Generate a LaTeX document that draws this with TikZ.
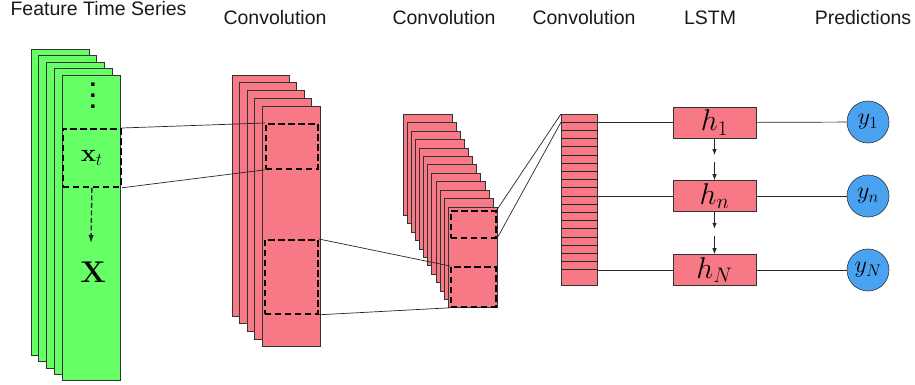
\RequirePackage{fix-cm}
\documentclass[tikz,border=0pt]{standalone}
\usepackage[no-math]{fontspec}
\setmainfont{Liberation Sans}
\usepackage{amsmath}
\usepackage{tikz}
\usetikzlibrary{arrows.meta, positioning, calc}

\definecolor{featgreen}{RGB}{102,255,102}
\definecolor{convred}{RGB}{247,121,133}
\definecolor{predblue}{RGB}{74,163,240}

\begin{document}
\begin{tikzpicture}[x=1pt, y=-1pt,
    layer/.style={draw=black!80, fill=#1, line width=0.6pt},
    front/.style={layer=#1, inner sep=0pt, anchor=north west},
    window/.style={draw=black, dashed, dash pattern=on 6.5pt off 3.5pt, line width=1.8pt, inner sep=0pt, anchor=north west},
    cell/.style={draw=black!80, fill=convred, line width=0.6pt, minimum width=83pt, minimum height=31pt, inner sep=0pt, font=\fontsize{30}{34}\selectfont},
    pred/.style={circle, draw=black!80, fill=predblue, line width=0.6pt, minimum size=42pt, inner sep=0pt, font=\fontsize{24}{28}\selectfont},
    title/.style={anchor=base, text=black!90, font=\fontsize{19.5}{23}\selectfont},
    link/.style={draw=black!85, line width=0.7pt},
    arr/.style={link, -{Latex[length=6pt, width=4.5pt]}}]
\useasboundingbox (0,0) rectangle (915,385);

% Titles
\node[title] (t-feat) at (98.5,16) {Feature Time Series};
\node[title] (t-conv1) at (275,25) {Convolution};
\node[title] (t-conv2) at (444,25) {Convolution};
\node[title] (t-conv3) at (584,25) {Convolution};
\node[title] (t-lstm) at (710,25) {LSTM};
\node[title] (t-pred) at (863,25) {Predictions};

% Feature time series stack
\foreach \i in {0,...,3}
    \draw[layer=featgreen] ({31+7.75*\i},{49+6.5*\i}) rectangle ++(58,306);
\node[front=featgreen, minimum width=58pt, minimum height=305pt] (feat) at (62,75) {};
\node[font=\fontsize{24}{28}\selectfont\bfseries, inner sep=0pt] (dots) at (93,96)
    {\vbox{\baselineskip=11pt\hbox{.}\hbox{.}\hbox{.}}};
\node[window, minimum width=58pt, minimum height=58pt, font=\fontsize{25}{29}\selectfont] (xt) at (62,128) {$\mathbf{x}_t$};
\node[font=\fontsize{30}{34}\selectfont] (X) at (93,272) {$\mathbf{X}$};
\coordinate (xend) at (91,243);
\draw[link, dashed, dash pattern=on 5pt off 2.5pt, line width=1.3pt, -{Latex[length=8pt, width=5.5pt]}] (xt.south) -- (xend);

% First convolution
\foreach \i in {0,...,3}
    \draw[layer=convred] ({232+7.5*\i},{75+7.75*\i}) rectangle ++(57,241);
\node[front=convred, minimum width=58pt, minimum height=240pt] (conv1) at (262,106) {};
\node[window, minimum width=52pt, minimum height=45pt] (win1) at (265,123) {};
\node[window, minimum width=53pt, minimum height=74pt] (win2) at (264,239) {};

% Second convolution
\foreach \i in {0,...,10}
    \draw[layer=convred] ({403+4.1*\i},{114+8.45*\i}) rectangle ++(49,101);
\node[front=convred, minimum width=49pt, minimum height=100pt] (conv2) at (448,207) {};
\node[window, minimum width=45pt, minimum height=27pt] (winA) at (450,210) {};
\node[window, minimum width=45pt, minimum height=40pt] (winB) at (450,266) {};

% Third convolution
\node[front=convred, minimum width=36pt, minimum height=171pt] (col) at (561,114) {};
\foreach \k in {1,...,19}
    \draw[link] ($(col.north west)+(0,{8.2*\k})$) -- ($(col.north east)+(0,{8.2*\k})$);
\coordinate (colrow) at ($(col.north west)+(0,8.2)$);

% LSTM
\node[cell] (h1) at (714.5,122.5) {$h_1$};
\node[cell] (hn) at (714.5,196) {$h_n$};
\node[cell] (hN) at (714.5,270) {$h_N$};

% Predictions
\node[pred] (y1) at (868,122) {$y_1$};
\node[pred] (yn) at (868,196) {$y_n$};
\node[pred] (yN) at (868,270) {$y_N$};

% Connections
\draw[link] (xt.north east) -- (win1.north west);
\draw[link] (xt.south east) -- (win1.south west);
\draw[link] (win2.north east) -- (winB.north west);
\draw[link] (win2.south east) -- (winB.south west);
\draw[link] (winA.north east) -- (col.north west);
\draw[link] (winA.south east) -- (colrow);
\draw[link] (h1.west -| col.east) -- (h1.west);
\draw[link] (hn.west -| col.east) -- (hn.west);
\draw[link] (hN.west -| col.east) -- (hN.west);
\draw[arr] (h1.south) -- ($(h1.south)!0.4!(hn.north)$);
\draw[arr] ($(h1.south)!0.56!(hn.north)$) -- (hn.north);
\draw[arr] (hn.south) -- ($(hn.south)!0.4!(hN.north)$);
\draw[arr] ($(hn.south)!0.56!(hN.north)$) -- (hN.north);
\draw[link] (h1) -- (y1);
\draw[link] (hn) -- (yn);
\draw[link] (hN) -- (yN);
\end{tikzpicture}
\end{document}
